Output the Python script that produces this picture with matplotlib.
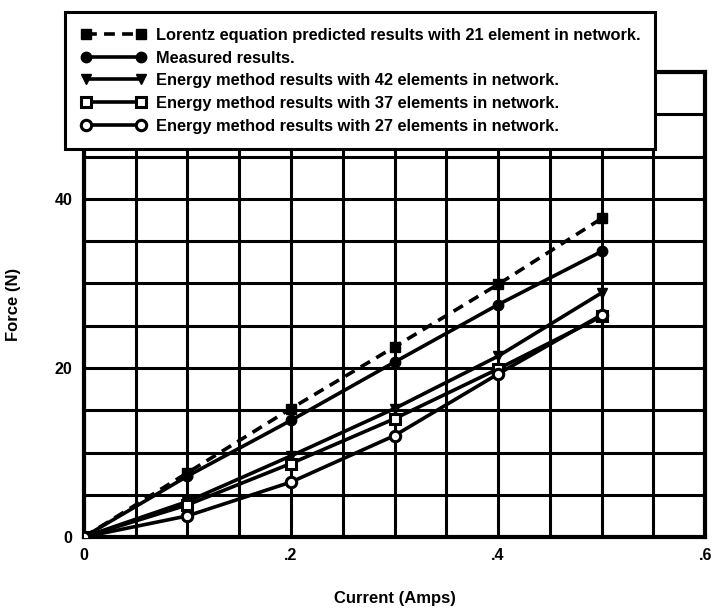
import matplotlib
matplotlib.use("Agg")
import matplotlib.pyplot as plt
import numpy as np

current = [0.0, 0.1, 0.2, 0.3, 0.4, 0.5]
lorentz_21 = [0.0, 7.6, 15.2, 22.5, 29.9, 37.7]
measured = [0.0, 7.2, 13.8, 20.7, 27.5, 33.8]
energy_42 = [0.0, 4.2, 9.6, 15.2, 21.4, 28.9]
energy_37 = [0.0, 3.8, 8.7, 14.0, 19.9, 26.1]
energy_27 = [0.0, 2.5, 6.5, 12.0, 19.3, 26.3]

labels = [
    "Lorentz equation predicted results with 21 element in network.",
    "Measured results.",
    "Energy method results with 42 elements in network.",
    "Energy method results with 37 elements in network.",
    "Energy method results with 27 elements in network.",
]
xticks = [0, 0.2, 0.4, 0.6]
xticklabels = ["0", ".2", ".4", ".6"]
yticks = [0, 20, 40]
yticklabels = ["0", "20", "40"]

plt.rcParams['font.family'] = ['Liberation Sans', 'DejaVu Sans']
plt.rcParams['font.weight'] = 'bold'

fig = plt.figure(figsize=(7.16, 6.12), dpi=100)
ax = fig.add_axes([0.117, 0.1225, 0.868, 0.7595])

lw = 2.6
ax.plot(current, lorentz_21, color='black', lw=lw, ls=(0, (3, 2)), marker='s', ms=7.5,
        mfc='black', mec='black', label=labels[0], zorder=5)
ax.plot(current, measured, color='black', lw=lw, marker='o', ms=7.5,
        mfc='black', mec='black', label=labels[1], zorder=5)
ax.plot(current, energy_42, color='black', lw=lw, marker='v', ms=7.5,
        mfc='black', mec='black', label=labels[2], zorder=5)
ax.plot(current, energy_37, color='black', lw=lw, marker='s', ms=7.5,
        mfc='white', mec='black', mew=2.2, label=labels[3], zorder=5)
ax.plot(current, energy_27, color='black', lw=lw, marker='o', ms=7.5,
        mfc='white', mec='black', mew=2.2, label=labels[4], zorder=5)

ax.set_xlim(0, 0.6)
ax.set_ylim(0, 55)
ax.set_xticks(np.arange(0, 0.6001, 0.05), minor=True)
ax.set_yticks(np.arange(0, 55.01, 5), minor=True)
ax.set_xticks(xticks)
ax.set_xticklabels(xticklabels, fontsize=11.5, fontweight='bold')
ax.set_yticks(yticks)
ax.set_yticklabels(yticklabels, fontsize=11.5, fontweight='bold')
ax.grid(True, which='both', color='black', lw=2.2)
ax.tick_params(which='both', length=0, pad=8)
for s in ax.spines.values():
    s.set_linewidth(3)
    s.set_color('black')

ax.set_xlabel("Current (Amps)", fontsize=12, fontweight='bold', labelpad=20)
ax.set_ylabel("Force (N)", fontsize=12, fontweight='bold', labelpad=24)

leg = fig.legend(loc='upper left', bbox_to_anchor=(0.091, 0.980, 0.824, 0.0),
                 mode='expand', borderaxespad=0, numpoints=2,
                 handlelength=4.0, labelspacing=0.47,
                 frameon=True, fancybox=False, borderpad=0.95, handletextpad=0.6,
                 prop={'weight': 'bold', 'size': 11.8})
leg.get_frame().set_edgecolor('black')
leg.get_frame().set_linewidth(2.2)
leg.get_frame().set_alpha(1)
leg.set_zorder(10)

fig.savefig("out.png", dpi=100)
